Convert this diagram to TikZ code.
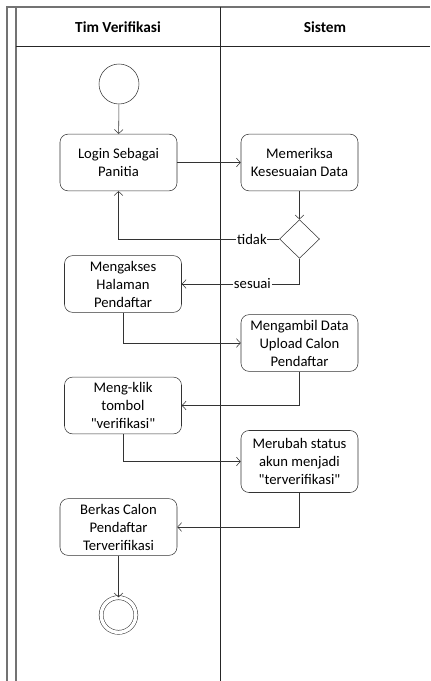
\documentclass[tikz,border=0pt]{standalone}
\usepackage{fontspec}
\setmainfont{Carlito}
\usetikzlibrary{arrows.meta,shapes.geometric}
\begin{document}
\begin{tikzpicture}[x=0.75pt,y=-0.75pt,
  font=\fontsize{11}{13.5}\selectfont,
  act/.style={draw=black!80,rounded corners=6pt,minimum width=87.75pt,minimum height=42.5pt,
    align=center,inner sep=1pt},
  flow/.style={draw=black!80,-{Straight Barb[length=3pt,width=6.5pt]}},
  lbl/.style={fill=white,inner sep=0.5pt},
  lane/.style={draw=black!55,line width=0.8pt}]
\useasboundingbox (0,0) rectangle (430,681);
% swimlanes
\draw[lane] (430,7) -- (7,7) -- (7,681);
\draw[lane] (16,7) -- (16,681);
\draw[black!85] (16,46) -- (430,46);
\draw[black!85] (220,7) -- (220,681);
\node[font=\fontsize{11.5}{13.5}\selectfont\bfseries] (hTim) at (118,27) {Tim Verifikasi};
\node[font=\fontsize{11.5}{13.5}\selectfont\bfseries] (hSis) at (325,27) {Sistem};
% nodes
\node[draw=black!80,circle,minimum size=30pt,inner sep=0pt] (start) at (119,84) {};
\node[act] (login) at (118.5,162.5) {Login Sebagai\\Panitia};
\node[act] (periksa) at (299.5,162.5) {Memeriksa\\Kesesuaian Data};
\node[draw=black!80,diamond,minimum width=30pt,minimum height=29pt,inner sep=0pt] (cek) at (299.5,239) {};
\node[act] (akses) at (123,284) {Mengakses\\Halaman\\Pendaftar};
\node[act] (ambil) at (299.5,343) {Mengambil Data\\Upload Calon\\Pendaftar};
\node[act] (klik) at (123,405.5) {Meng-klik\\tombol\\\textquotedbl verifikasi\textquotedbl};
\node[act,minimum height=46.5pt] (ubah) at (299.5,461.5) {Merubah status\\akun menjadi\\\textquotedbl terverifikasi\textquotedbl};
\node[act] (berkas) at (118.5,527) {Berkas Calon\\Pendaftar\\Terverifikasi};
\node[draw=black!80,circle,double,double distance=2.6pt,minimum size=26pt,inner sep=0pt] (end) at (118.5,615) {};
% connectors
\draw[flow] (start) -- (login);
\draw[flow] (login) -- (periksa);
\draw[flow] (periksa) -- (cek);
\draw[flow] (cek.west) -| node[lbl,pos=0.085]{tidak} (login.south);
\draw[flow] (cek.south) |- node[lbl,pos=0.7]{sesuai} (akses.east);
\draw[flow] (akses.south) |- (ambil.west);
\draw[flow] (ambil.south) |- (klik.east);
\draw[flow] (klik.south) |- (ubah.west);
\draw[flow] (ubah.south) |- (berkas.east);
\draw[flow] (berkas) -- (end);
\end{tikzpicture}
\end{document}
